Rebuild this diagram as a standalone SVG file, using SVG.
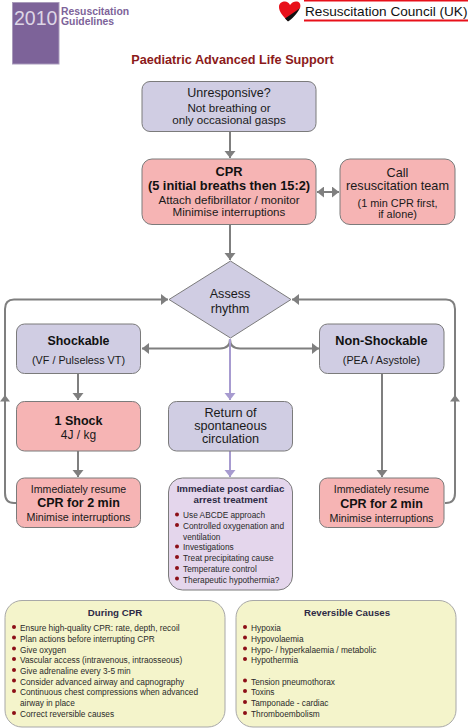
<svg xmlns="http://www.w3.org/2000/svg" width="468" height="728" viewBox="0 0 468 728">
<style>
text{font-family:"Liberation Sans",Arial,sans-serif;fill:#1a1a1a;text-anchor:middle}
.l{text-anchor:start}
.b{font-weight:bold}
.n{stroke:#7b7b7b;stroke-width:1}
.lil{fill:#d0cde3}.red{fill:#f6b4b4}.pur{fill:#e4d6ec}
.yel{fill:#f4f4cb;stroke:#a8a8a8;stroke-width:1}
.c{fill:none;stroke:#7f7f7f;stroke-width:2}
.p{fill:none;stroke:#a79bd0;stroke-width:2}
.t11{font-size:11.6px}.t9{font-size:8.3px;fill:#2a2a2a}
.h{font-size:9.7px;font-weight:bold;fill:#2e2a45}
.dot{fill:#8c0f17}
</style>
<defs>
<marker id="a" markerUnits="userSpaceOnUse" markerWidth="8" markerHeight="12" refX="7" refY="5.500" orient="auto"><path d="M0 0L7 5.500L0 11Z" fill="#7f7f7f"/></marker>
<marker id="ap" markerUnits="userSpaceOnUse" markerWidth="8" markerHeight="12" refX="7" refY="5.500" orient="auto"><path d="M0 0L7 5.500L0 11Z" fill="#a79bd0"/></marker>
<marker id="as" markerUnits="userSpaceOnUse" markerWidth="8" markerHeight="12" refX="0" refY="5.500" orient="auto"><path d="M7 0L0 5.500L7 11Z" fill="#7f7f7f"/></marker>
</defs>
<rect width="468" height="728" fill="#fff"/>
<g id="logo-2010">
<rect x="12.500" y="2.500" width="46.500" height="61.500" fill="#7d6399" stroke="#a99bbb" stroke-width="1"/>
<text class="l" x="14" y="24.500" font-size="19.500" style="fill:#ddd6e6">2010</text>
<text class="l b" x="61" y="14.500" font-size="10.400" style="fill:#7d6399">Resuscitation</text>
<text class="l b" x="61" y="25" font-size="10.400" style="fill:#7d6399">Guidelines</text>
</g>
<g id="logo-rcuk">
<path d="M288 21C283 16 279 12 279 7C279 3 282 1.500 285 1.500C287 1.500 289 3 290 5C292 2 295 1 297 1.500C300 2 301 5 300 8Z" fill="#e8101a"/>
<path d="M300 8C297 14 292 19 288 21.500L285 18.500L296 11Z" fill="#111"/>
<rect x="304" y="0" width="164" height="1.500" fill="#e8101a"/>
<rect x="304" y="19.500" width="164" height="2" fill="#e8101a"/>
<text class="l" x="305" y="15.500" font-size="13.600" style="fill:#111">Resuscitation Council (UK)</text>
</g>
<text id="title" class="b" x="232.500" y="64" font-size="12.700" style="fill:#8b1a1a">Paediatric Advanced Life Support</text>
<g id="connectors">
<path class="c" d="M230 131V158" marker-end="url(#a)"/>
<path class="c" d="M230 225V260" marker-end="url(#a)"/>
<path class="c" d="M317 192H339" marker-start="url(#as)" marker-end="url(#a)"/>
<path class="c" d="M230 339C230 346 226 348.500 220 348.500H142" marker-end="url(#a)"/>
<path class="c" d="M230 339C230 346 234 348.500 240 348.500H319" marker-end="url(#a)"/>
<path class="p" d="M230 339V400" marker-end="url(#ap)"/>
<path class="p" d="M230 451V477" marker-end="url(#ap)"/>
<path class="c" d="M78 374V400" marker-end="url(#a)"/>
<path class="c" d="M78 451V477" marker-end="url(#a)"/>
<path class="c" d="M382 374V477" marker-end="url(#a)"/>
<path class="c" d="M16 503H14C8 503 5 499 5 493V309C5 303 8 299.500 14 299.500H168" marker-end="url(#a)"/>
<path class="c" d="M445 503H446C452 503 455 499 455 493V309C455 303 452 299.500 446 299.500H292" marker-end="url(#a)"/>
<path d="M0 401.500L5 395L10 401.500Z" fill="#7f7f7f"/>
<path d="M450 401.500L455 395L460 401.500Z" fill="#7f7f7f"/>
</g>
<g id="node-unresponsive">
<rect class="n lil" x="142" y="81.500" width="174" height="50" rx="8"/>
<text x="229" y="97" font-size="12.500">Unresponsive?</text>
<text class="t11" x="229" y="112">Not breathing or</text>
<text class="t11" x="229" y="124">only occasional gasps</text>
</g>
<g id="node-cpr">
<rect class="n red" x="142" y="159" width="174" height="65.500" rx="10"/>
<text class="b" x="229" y="176" font-size="12.800" style="fill:#111">CPR</text>
<text class="b" x="229" y="189.500" font-size="12.800" style="fill:#111">(5 initial breaths then 15:2)</text>
<text class="t11" x="229" y="204">Attach defibrillator / monitor</text>
<text class="t11" x="229" y="216">Minimise interruptions</text>
</g>
<g id="node-call">
<rect class="n red" x="340" y="159" width="115" height="65.500" rx="10"/>
<text x="397.500" y="176.500" font-size="12.700">Call</text>
<text x="397.500" y="190" font-size="12.700">resuscitation team</text>
<text x="397.500" y="207" font-size="10.900">(1 min CPR first,</text>
<text x="397.500" y="217.500" font-size="10.900">if alone)</text>
</g>
<g id="node-assess">
<path class="n lil" d="M169 299.500L230.500 261L291 299.500L230.500 338Z"/>
<text x="230" y="298" font-size="12.600">Assess</text>
<text x="230" y="312.500" font-size="12.600">rhythm</text>
</g>
<g id="node-shockable">
<rect class="n lil" x="16.500" y="324" width="124" height="49.500" rx="8"/>
<text class="b" x="78.500" y="345" font-size="12.400" style="fill:#111">Shockable</text>
<text x="78.500" y="364" font-size="10.800">(VF / Pulseless VT)</text>
</g>
<g id="node-nonshockable">
<rect class="n lil" x="319.500" y="324" width="124.500" height="49.500" rx="8"/>
<text class="b" x="381.500" y="345" font-size="12.700" style="fill:#111">Non-Shockable</text>
<text x="381.500" y="364" font-size="10.800">(PEA / Asystole)</text>
</g>
<g id="node-shock">
<rect class="n red" x="16.500" y="401.500" width="124" height="49.500" rx="8"/>
<text class="b" x="78.500" y="425" font-size="12.500" style="fill:#111">1 Shock</text>
<text x="78.500" y="439" font-size="12">4J / kg</text>
</g>
<g id="node-rosc">
<rect class="n lil" x="168.500" y="401.500" width="124" height="49.500" rx="8"/>
<text x="230.500" y="417" font-size="12.700">Return of</text>
<text x="230.500" y="430" font-size="12.700">spontaneous</text>
<text x="230.500" y="442.500" font-size="12.700">circulation</text>
</g>
<g id="node-resume-left">
<rect class="n red" x="16.500" y="478" width="124" height="49.500" rx="8"/>
<text x="78.500" y="493" font-size="10.600">Immediately resume</text>
<text class="b" x="78.500" y="507" font-size="12.500" style="fill:#111">CPR for 2 min</text>
<text x="78.500" y="521" font-size="10.700">Minimise interruptions</text>
</g>
<g id="node-resume-right">
<rect class="n red" x="319.500" y="478" width="124.500" height="49.500" rx="8"/>
<text x="381.500" y="493" font-size="10.600">Immediately resume</text>
<text class="b" x="381.500" y="508" font-size="12.500" style="fill:#111">CPR for 2 min</text>
<text x="381.500" y="522" font-size="10.700">Minimise interruptions</text>
</g>
<g id="node-post">
<rect class="n pur" x="168.500" y="478" width="124" height="112" rx="14"/>
<text class="h" x="230.500" y="492">Immediate post cardiac</text>
<text class="h" x="230.500" y="503">arrest treatment</text>
<g class="dot"><circle cx="177" cy="514.500" r="2"/><circle cx="177" cy="525" r="2"/><circle cx="177" cy="546.500" r="2"/><circle cx="177" cy="557" r="2"/><circle cx="177" cy="568" r="2"/><circle cx="177" cy="578.500" r="2"/></g>
<text class="l t9" x="183" y="518">Use ABCDE approach</text>
<text class="l t9" x="183" y="529">Controlled oxygenation and</text>
<text class="l t9" x="183" y="539.500">ventilation</text>
<text class="l t9" x="183" y="550">Investigations</text>
<text class="l t9" x="183" y="561">Treat precipitating cause</text>
<text class="l t9" x="183" y="571.500">Temperature control</text>
<text class="l t9" x="183" y="582.500">Therapeutic hypothermia?</text>
</g>
<g id="node-during-cpr">
<rect class="yel" x="5" y="600.500" width="220" height="126.500" rx="17"/>
<text class="h" x="115" y="616">During CPR</text>
<g class="dot"><circle cx="14" cy="627" r="2"/><circle cx="14" cy="637.500" r="2"/><circle cx="14" cy="648.500" r="2"/><circle cx="14" cy="659" r="2"/><circle cx="14" cy="670" r="2"/><circle cx="14" cy="680.500" r="2"/><circle cx="14" cy="691" r="2"/><circle cx="14" cy="713" r="2"/></g>
<text class="l t9" x="20" y="631">Ensure high-quality CPR: rate, depth, recoil</text>
<text class="l t9" x="20" y="641.500">Plan actions before interrupting CPR</text>
<text class="l t9" x="20" y="652.500">Give oxygen</text>
<text class="l t9" x="20" y="663">Vascular access (intravenous, intraosseous)</text>
<text class="l t9" x="20" y="673.500">Give adrenaline every 3-5 min</text>
<text class="l t9" x="20" y="684.500">Consider advanced airway and capnography</text>
<text class="l t9" x="20" y="695">Continuous chest compressions when advanced</text>
<text class="l t9" x="20" y="706">airway in place</text>
<text class="l t9" x="20" y="716.500">Correct reversible causes</text>
</g>
<g id="node-reversible-causes">
<rect class="yel" x="236" y="600.500" width="220" height="126.500" rx="17"/>
<text class="h" x="347" y="616">Reversible Causes</text>
<g class="dot"><circle cx="245" cy="627" r="2"/><circle cx="245" cy="637.500" r="2"/><circle cx="245" cy="648.500" r="2"/><circle cx="245" cy="659" r="2"/><circle cx="245" cy="680.500" r="2"/><circle cx="245" cy="691" r="2"/><circle cx="245" cy="702" r="2"/><circle cx="245" cy="713" r="2"/></g>
<text class="l t9" x="251" y="631">Hypoxia</text>
<text class="l t9" x="251" y="641.500">Hypovolaemia</text>
<text class="l t9" x="251" y="652.500">Hypo- / hyperkalaemia / metabolic</text>
<text class="l t9" x="251" y="663">Hypothermia</text>
<text class="l t9" x="251" y="684.500">Tension pneumothorax</text>
<text class="l t9" x="251" y="695">Toxins</text>
<text class="l t9" x="251" y="706">Tamponade - cardiac</text>
<text class="l t9" x="251" y="716.500">Thromboembolism</text>
</g>
</svg>
